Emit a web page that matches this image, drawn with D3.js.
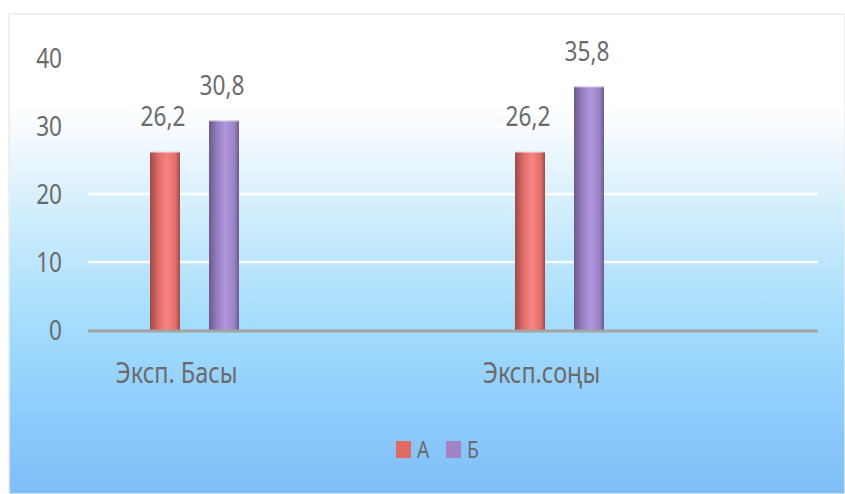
<!DOCTYPE html>
<html><head><meta charset="utf-8">
<script src="https://cdn.jsdelivr.net/npm/d3@7/dist/d3.min.js"></script>
<style>
html,body{margin:0;padding:0;background:#fff;}
svg{display:block;}
text{font-family:"Noto Sans","Open Sans",sans-serif;fill:#6b6b6b;}
</style></head>
<body>
<script>
const categories = ["Эксп. Басы", "Эксп.соңы"];
const seriesNames = ["А", "Б"];
const valuesA = [26.2, 26.2];
const valuesB = [30.8, 35.8];
const yTicks = [0, 10, 20, 30, 40];
const valueLabels = [["26,2", "30,8"], ["26,2", "35,8"]];

const W = 845, H = 494;
const svg = d3.select("body").append("svg").attr("width", W).attr("height", H);
const defs = svg.append("defs");

// measure horizontal squeeze factor for the narrow look
const probe = svg.append("text").attr("font-size",29).text(categories[0]);
const SX = 122 / probe.node().getComputedTextLength();
probe.remove();

function addText(parent, x, yy, str, size, anchor){
  return parent.append("text")
    .attr("transform",`translate(${x},${yy}) scale(${SX},1)`)
    .attr("text-anchor",anchor).attr("font-size",size).text(str);
}

// background gradient
const bg = defs.append("linearGradient").attr("id","bg").attr("x1",0).attr("y1",0).attr("x2",0).attr("y2",1);
[[0,"#ffffff"],[0.19,"#ffffff"],[0.3,"#eaf6fd"],[0.45,"#c9ebfc"],[0.65,"#a3dcfc"],[0.82,"#8fcdfc"],[1,"#7fbdf8"]]
 .forEach(([o,c])=>bg.append("stop").attr("offset",o).attr("stop-color",c));
svg.append("rect").attr("x",9).attr("y",14).attr("width",W-9).attr("height",H-14).attr("fill","url(#bg)")
  .attr("stroke","#ececec").attr("stroke-width",1.5);

function barGrad(id, dark, mid, light){
  const g = defs.append("linearGradient").attr("id",id).attr("x1",0).attr("y1",0).attr("x2",1).attr("y2",0);
  [[0,dark],[0.3,mid],[0.55,light],[0.85,mid],[1,dark]].forEach(([o,c])=>g.append("stop").attr("offset",o).attr("stop-color",c));
}
barGrad("gA","#9c4a48","#e46e69","#f58582");
barGrad("gB","#6b5a8c","#9a82c6","#b197dc");
const fills = ["url(#gA)","url(#gB)"];
const legendColors = ["#e06a66","#a183c6"];

const y = d3.scaleLinear().domain([0,40]).range([330,58]);
const x = d3.scaleBand().domain(categories).range([12,742]).paddingInner(0).paddingOuter(0);
const xs = d3.scaleBand().domain(seriesNames).range([-44.5,44.5]).paddingInner(0.4915).paddingOuter(0);
const plotL = 88, plotR = 818;

// gridlines
svg.append("g").selectAll("line").data(yTicks.filter(t=>t>0)).join("line")
  .attr("x1",plotL).attr("x2",plotR).attr("y1",d=>y(d)).attr("y2",d=>y(d))
  .attr("stroke","#ffffff").attr("stroke-width",2.5).attr("opacity",0.9);

// y tick labels
const yl = svg.append("g");
yTicks.forEach(t=>addText(yl, 62, y(t)+10, t, 28, "end"));

// bars
const data = categories.map((c,i)=>({cat:c, vals:[valuesA[i], valuesB[i]], labels:valueLabels[i]}));
const groups = svg.append("g").selectAll("g").data(data).join("g")
  .attr("transform",d=>`translate(${x(d.cat)+x.bandwidth()/2},0)`);
groups.selectAll("rect").data(d=>d.vals.map((v,j)=>({s:seriesNames[j],v,j}))).join("rect")
  .attr("x",d=>xs(d.s)).attr("width",xs.bandwidth())
  .attr("y",d=>y(d.v)).attr("height",d=>y(0)-y(d.v))
  .attr("fill",d=>fills[d.j]);
groups.selectAll("line.top").data(d=>d.vals.map((v,j)=>({s:seriesNames[j],v,j}))).join("line")
  .attr("class","top").attr("x1",d=>xs(d.s)).attr("x2",d=>xs(d.s)+xs.bandwidth())
  .attr("y1",d=>y(d.v)+0.5).attr("y2",d=>y(d.v)+0.5).attr("stroke","#ffffff").attr("stroke-opacity",0.5);
groups.each(function(d){
  const g = d3.select(this);
  d.vals.forEach((v,j)=>{
    addText(g, xs(seriesNames[j])+xs.bandwidth()/2-2, y(v)-25.5, d.labels[j], 28, "middle");
  });
});

// baseline
svg.append("line").attr("x1",plotL).attr("x2",plotR).attr("y1",y(0)+1).attr("y2",y(0)+1)
  .attr("stroke","#a3a3a3").attr("stroke-width",3);

// category labels
const cl = svg.append("g");
categories.forEach(c=>addText(cl, x(c)+x.bandwidth()/2-18, 383, c, 29, "middle"));

// legend
const lg = svg.append("g").attr("transform","translate(396,441)");
seriesNames.forEach((s,i)=>{
  const g = lg.append("g").attr("transform",`translate(${i*50},0)`);
  g.append("rect").attr("width",15).attr("height",17).attr("fill",legendColors[i]);
  addText(g, 21, 17, s, 24, "start");
});
</script>
</body></html>
